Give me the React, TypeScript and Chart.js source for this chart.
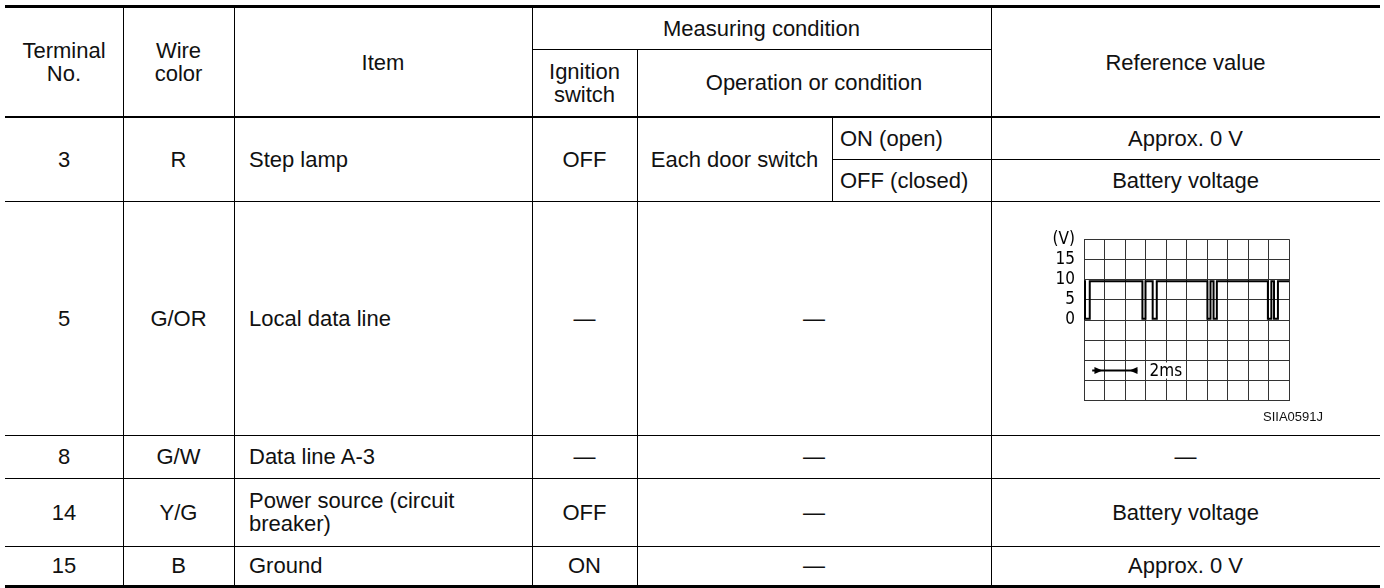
import React, { useEffect, useRef } from "react";
import { Chart, registerables } from "chart.js";

Chart.register(...registerables);

// ---------------- table data ----------------
const headerLabels = {
  terminal: "Terminal\nNo.",
  wire: "Wire\ncolor",
  item: "Item",
  measuring: "Measuring condition",
  ignition: "Ignition\nswitch",
  operation: "Operation or condition",
  reference: "Reference value",
};
const terminals = ["3", "5", "8", "14", "15"];
const wireColors = ["R", "G/OR", "G/W", "Y/G", "B"];
const items = ["Step lamp", "Local data line", "Data line A-3", "Power source (circuit\nbreaker)", "Ground"];
const ignitionStates = ["OFF", "—", "—", "OFF", "ON"];
const operations = ["Each door switch", "—", "—", "—", "—"];
const doorSwitchStates = ["ON (open)", "OFF (closed)"];
const doorSwitchValues = ["Approx. 0 V", "Battery voltage"];
const referenceValues = ["", "", "—", "Battery voltage", "Approx. 0 V"];

// ---------------- waveform data (time in ms, volts) ----------------
const waveTimesMs = [0, 0.05, 0.05, 0.28, 0.28, 2.85, 2.85, 3.0, 3.0, 3.35, 3.35, 3.55, 3.55, 6.02, 6.02, 6.17, 6.17, 6.32, 6.32, 6.48, 6.48, 8.97, 8.97, 9.14, 9.14, 9.27, 9.27, 9.46, 9.46, 10];
const waveVolts = [9.6, 9.6, 0.3, 0.3, 9.6, 9.6, 0.3, 0.3, 9.6, 9.6, 0.3, 0.3, 9.6, 9.6, 0.3, 0.3, 9.6, 9.6, 0.3, 0.3, 9.6, 9.6, 0.3, 0.3, 9.6, 9.6, 0.3, 0.3, 9.6, 9.6];
const timeRangeMs = [0, 10];
const voltRange = [-20, 20];
const voltTickValues = [20, 15, 10, 5, 0];
const voltTickLabels = ["(V)", "15", "10", "5", "0"];
const spanArrowMs = [0.4, 2.6];
const spanHeadTipsMs = [0.9, 2.22];
const spanLevelV = -12.5;
const spanLabelMs = 3.2;
const spanLabel = "2ms";
const figureCode = "SIIA0591J";

// ---------------- layout ----------------
const FONT = '"Liberation Sans", Arial, Helvetica, sans-serif';
const NARROW = '"Liberation Sans Narrow", "DejaVu Sans Condensed", "Liberation Sans", sans-serif';
const COLS = [5, 123, 234, 532, 637, 832, 991, 1380];
const ROWS = [118, 201, 435, 478, 546, 585];
const HEAD_TOP = 8;
const HEAD_MID = 49;
const SPLIT_Y = 159;

function Cell(props: { x1: number; x2: number; y1: number; y2: number; text: string; left?: boolean; pad?: number }) {
  const { x1, x2, y1, y2, text, left, pad } = props;
  return (
    <div
      style={{
        position: "absolute",
        left: x1,
        top: y1,
        width: x2 - x1,
        height: y2 - y1,
        display: "flex",
        alignItems: "center",
        justifyContent: left ? "flex-start" : "center",
        textAlign: left ? "left" : "center",
        paddingLeft: pad || 0,
        boxSizing: "border-box",
        whiteSpace: "pre-line",
        lineHeight: "23px",
        fontSize: 22,
        fontFamily: FONT,
        color: "#111",
      }}
    >
      {text}
    </div>
  );
}

function HLine(props: { x1: number; x2: number; y: number; t?: number }) {
  return <div style={{ position: "absolute", left: props.x1, top: props.y, width: props.x2 - props.x1, height: props.t || 1, background: "#000" }} />;
}
function VLine(props: { x: number; y1: number; y2: number }) {
  return <div style={{ position: "absolute", left: props.x, top: props.y1, width: 1, height: props.y2 - props.y1, background: "#000" }} />;
}

const spanPlugin = {
  id: "spanArrow",
  afterDatasetsDraw(chart: any) {
    const { ctx, scales } = chart;
    const xs = scales.x;
    const ys = scales.y;
    const yy = ys.getPixelForValue(spanLevelV);
    const a0 = xs.getPixelForValue(spanArrowMs[0]);
    const a1 = xs.getPixelForValue(spanArrowMs[1]);
    const t0 = xs.getPixelForValue(spanHeadTipsMs[0]);
    const t1 = xs.getPixelForValue(spanHeadTipsMs[1]);
    ctx.save();
    ctx.strokeStyle = "#000";
    ctx.fillStyle = "#000";
    ctx.lineWidth = 2;
    ctx.beginPath();
    ctx.moveTo(a0, yy);
    ctx.lineTo(a1, yy);
    ctx.stroke();
    // inward pointing heads
    ctx.beginPath();
    ctx.moveTo(t0, yy);
    ctx.lineTo(t0 - 8, yy - 3.5);
    ctx.lineTo(t0 - 8, yy + 3.5);
    ctx.closePath();
    ctx.fill();
    ctx.beginPath();
    ctx.moveTo(t1, yy);
    ctx.lineTo(t1 + 8, yy - 3.5);
    ctx.lineTo(t1 + 8, yy + 3.5);
    ctx.closePath();
    ctx.fill();
    // label with white backing
    const lx = xs.getPixelForValue(spanLabelMs);
    ctx.font = "17px " + NARROW;
    const w = ctx.measureText(spanLabel).width;
    ctx.fillStyle = "#fff";
    ctx.fillRect(lx - 2, yy - 8, w + 4, 16);
    ctx.fillStyle = "#000";
    ctx.textBaseline = "middle";
    ctx.textAlign = "left";
    ctx.fillText(spanLabel, lx, yy + 1);
    ctx.restore();
  },
};

function Waveform() {
  const ref = useRef<HTMLCanvasElement>(null);
  useEffect(() => {
    const points = waveTimesMs.map((t, i) => ({ x: t, y: waveVolts[i] }));
    const chart = new Chart(ref.current as HTMLCanvasElement, {
      type: "line",
      data: {
        datasets: [
          {
            data: points,
            borderColor: "#000",
            borderWidth: 2,
            pointRadius: 0,
            tension: 0,
            fill: false,
          },
        ],
      },
      options: {
        animation: false,
        responsive: false,
        maintainAspectRatio: false,
        layout: { padding: { left: 0, top: 13, right: 51, bottom: 19 } },
        plugins: { legend: { display: false }, tooltip: { enabled: false } },
        scales: {
          x: {
            type: "linear",
            min: timeRangeMs[0],
            max: timeRangeMs[1],
            ticks: { display: false, stepSize: 1 },
            grid: { color: "#333", lineWidth: 1, drawTicks: false },
            border: { color: "#333", width: 1 },
            afterFit: (s: any) => {
              s.height = 0;
            },
          },
          y: {
            min: voltRange[0],
            max: voltRange[1],
            ticks: {
              stepSize: 5,
              autoSkip: false,
              padding: 9,
              color: "#000",
              font: { family: NARROW, size: 17 },
              callback: (v: any) => {
                const i = voltTickValues.indexOf(Number(v));
                return i >= 0 ? voltTickLabels[i] : "";
              },
            },
            grid: { color: "#333", lineWidth: 1, drawTicks: false },
            border: { color: "#333", width: 1 },
            afterFit: (s: any) => {
              s.width = 44;
            },
          },
        },
      },
      plugins: [spanPlugin],
    } as any);
    return () => chart.destroy();
  }, []);
  return (
    <canvas
      ref={ref}
      width={300}
      height={200}
      style={{ position: "absolute", left: 1040, top: 220, width: 300, height: 200 }}
    />
  );
}

export default function App() {
  const [c0, c1, c2, c3, c4, c5, c6, c7] = COLS;
  const rowCells: any[] = [];
  for (let r = 0; r < terminals.length; r++) {
    const y1 = ROWS[r];
    const y2 = ROWS[r + 1];
    rowCells.push(<Cell key={"t" + r} x1={c0} x2={c1} y1={y1} y2={y2} text={terminals[r]} />);
    rowCells.push(<Cell key={"w" + r} x1={c1} x2={c2} y1={y1} y2={y2} text={wireColors[r]} />);
    rowCells.push(<Cell key={"i" + r} x1={c2} x2={c3} y1={y1} y2={y2} text={items[r]} left pad={15} />);
    rowCells.push(<Cell key={"g" + r} x1={c3} x2={c4} y1={y1} y2={y2} text={ignitionStates[r]} />);
    if (r === 0) {
      rowCells.push(<Cell key={"o" + r} x1={c4} x2={c5} y1={y1} y2={y2} text={operations[r]} />);
      rowCells.push(<Cell key="ds0" x1={c5} x2={c6} y1={y1} y2={SPLIT_Y} text={doorSwitchStates[0]} left pad={8} />);
      rowCells.push(<Cell key="ds1" x1={c5} x2={c6} y1={SPLIT_Y} y2={y2} text={doorSwitchStates[1]} left pad={8} />);
      rowCells.push(<Cell key="dv0" x1={c6} x2={c7} y1={y1} y2={SPLIT_Y} text={doorSwitchValues[0]} />);
      rowCells.push(<Cell key="dv1" x1={c6} x2={c7} y1={SPLIT_Y} y2={y2} text={doorSwitchValues[1]} />);
    } else {
      rowCells.push(<Cell key={"o" + r} x1={c4} x2={c6} y1={y1} y2={y2} text={operations[r]} />);
      if (referenceValues[r]) {
        rowCells.push(<Cell key={"rv" + r} x1={c6} x2={c7} y1={y1} y2={y2} text={referenceValues[r]} />);
      }
    }
  }
  const bottom = ROWS[ROWS.length - 1];
  return (
    <div style={{ position: "absolute", left: 0, top: 0, width: 1384, height: 588, background: "#fff", overflow: "hidden" }}>
      {/* header */}
      <Cell x1={c0} x2={c1} y1={HEAD_TOP} y2={ROWS[0] - 2} text={headerLabels.terminal} />
      <Cell x1={c1} x2={c2} y1={HEAD_TOP} y2={ROWS[0] - 2} text={headerLabels.wire} />
      <Cell x1={c2} x2={c3} y1={HEAD_TOP} y2={ROWS[0] - 2} text={headerLabels.item} />
      <Cell x1={c3} x2={c6} y1={HEAD_TOP} y2={HEAD_MID} text={headerLabels.measuring} />
      <Cell x1={c3} x2={c4} y1={HEAD_MID} y2={ROWS[0] - 2} text={headerLabels.ignition} />
      <Cell x1={c4} x2={c6} y1={HEAD_MID} y2={ROWS[0] - 2} text={headerLabels.operation} />
      <Cell x1={c6} x2={c7} y1={HEAD_TOP} y2={ROWS[0] - 2} text={headerLabels.reference} />
      {rowCells}
      {/* waveform in row 5 reference cell */}
      <Waveform />
      <div
        style={{
          position: "absolute",
          left: 1230,
          top: 408,
          width: 93,
          textAlign: "right",
          fontSize: 13,
          lineHeight: "18px",
          fontFamily: FONT,
          color: "#111",
        }}
      >
        {figureCode}
      </div>
      {/* horizontal rules */}
      <HLine x1={c0} x2={c7} y={5} t={3} />
      <HLine x1={c3} x2={c6} y={HEAD_MID} />
      <HLine x1={c0} x2={c7} y={ROWS[0] - 2} t={2} />
      <HLine x1={c5} x2={c7} y={SPLIT_Y} />
      <HLine x1={c0} x2={c7} y={ROWS[1]} />
      <HLine x1={c0} x2={c7} y={ROWS[2]} />
      <HLine x1={c0} x2={c7} y={ROWS[3]} />
      <HLine x1={c0} x2={c7} y={ROWS[4]} />
      <HLine x1={c0} x2={c7} y={bottom} t={3} />
      {/* vertical rules */}
      <VLine x={c1} y1={HEAD_TOP} y2={bottom} />
      <VLine x={c2} y1={HEAD_TOP} y2={bottom} />
      <VLine x={c3} y1={HEAD_TOP} y2={bottom} />
      <VLine x={c4} y1={HEAD_MID} y2={bottom} />
      <VLine x={c5} y1={ROWS[0]} y2={ROWS[1]} />
      <VLine x={c6} y1={HEAD_TOP} y2={bottom} />
    </div>
  );
}
